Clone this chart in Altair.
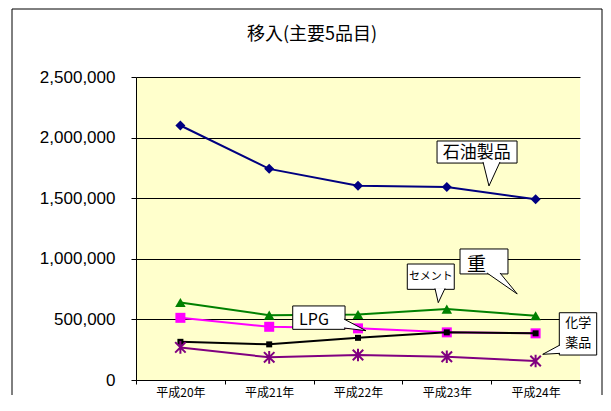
import json
import altair as alt
import pandas as pd

# ---------------- data ----------------
years = ["平成20年", "平成21年", "平成22年", "平成23年", "平成24年"]
series_names = ["石油製品", "セメント", "LPG", "重油", "化学薬品"]
petroleum = [2100000, 1742000, 1602000, 1592000, 1492000]
cement = [640000, 535000, 541000, 585000, 530000]
lpg = [513000, 439000, 426000, 393000, 385000]
heavy_oil = [315000, 294000, 348000, 393000, 385000]
chemicals = [269000, 187000, 206000, 192000, 157000]
y_ticks = [0, 500000, 1000000, 1500000, 2000000, 2500000]
title_text = "移入(主要5品目)"

# callout boxes (data units)
box_names = ["石油製品", "重", "セメント", "LPG", "化学薬品"]
box_x1 = [2.890, 3.149, 2.555, 1.265, 4.267]
box_x2 = [3.791, 3.689, 3.084, 1.854, 4.688]
box_y1 = [1972000, 1081000, 957000, 611000, 555000]
box_y2 = [1790000, 875000, 748000, 418000, 206000]

# callout texts
txt_label = ["石油製品", "重", "セメント", "LPG", "化学", "薬品"]
txt_x = [3.337, 3.335, 2.820, 1.505, 4.480, 4.480]
txt_y = [1873000, 949000, 846000, 499000, 468000, 308000]
txt_size = [17, 19, 11, 16, 13, 13]

# callout pointers (base, tip, base)
ptr_id = [1, 1, 1, 2, 2, 2, 3, 3, 3, 4, 4, 4, 5, 5, 5]
ptr_ord = [0, 1, 2] * 5
ptr_x = [3.408, 3.475, 3.599, 3.453, 3.793, 3.599, 2.867, 2.904, 2.980,
         1.842, 2.090, 1.842, 4.275, 4.080, 4.275]
ptr_y = [1799000, 1601000, 1799000, 883000, 710000, 883000, 756000, 638000, 756000,
         503000, 407000, 429000, 289000, 212000, 220000]

# ---------------- tables ----------------
values = [petroleum, cement, lpg, heavy_oil, chemicals]
rows = []
for name, vals in zip(series_names, values):
    for i, v in enumerate(vals):
        rows.append({"series": name, "idx": i, "value": v})
df = pd.DataFrame(rows)
box_df = pd.DataFrame({"name": box_names, "x1": box_x1, "x2": box_x2, "y1": box_y1, "y2": box_y2})
txt_df = pd.DataFrame({"label": txt_label, "x": txt_x, "y": txt_y, "fs": txt_size})
ptr_df = pd.DataFrame({"id": ptr_id, "ord": ptr_ord, "x": ptr_x, "y": ptr_y})
one = pd.DataFrame({"a": [0]})

W, H = 444, 303
xscale = alt.Scale(domain=[-0.5, len(years) - 0.5], nice=False, zero=False)
yscale = alt.Scale(domain=[0, 2500000], nice=False)

# band boundaries: labelled ticks on the left edge of each band, plus the closing tick
left_edges = [i - 0.5 for i in range(len(years))]
end_df = pd.DataFrame({"b": [len(years) - 0.5]})
years_js = json.dumps(years, ensure_ascii=False)
x_axis = alt.Axis(values=left_edges, title=None,
                  labelExpr=f"{years_js}[round(datum.value + 0.5)]")
y_axis = alt.Axis(values=y_ticks, title=None, labelExpr="format(datum.value, ',')")

colors = ["#000080", "#008000", "#FF00FF", "#000000", "#800080"]
shapes = ["diamond", "triangle-up", "square", "square",
          "M-1,-1L1,1M1,-1L-1,1M0,-1.2L0,1.2"]
sizes = [100, 110, 100, 36, 110]
filled = [True, True, True, True, False]


def X(field):
    return alt.X(field, scale=xscale, axis=x_axis)


def Y(field):
    return alt.Y(field, scale=yscale, axis=y_axis)


layers = []
for name, c, s, sz, f in zip(series_names, colors, shapes, sizes, filled):
    base = alt.Chart(df).transform_filter(alt.datum.series == name)
    layers.append(base.mark_line(color=c, strokeWidth=2).encode(x=X("idx:Q"), y=Y("value:Q")))
    if f:
        pt = base.mark_point(shape=s, size=sz, filled=True, color=c, opacity=1)
    else:
        pt = base.mark_point(shape=s, size=sz, filled=False, color=c, strokeWidth=2, opacity=1)
    layers.append(pt.encode(x=X("idx:Q"), y=Y("value:Q")))

# closing tick at the right end of the x axis
layers.append(alt.Chart(end_df).mark_rule(color="black", strokeWidth=1).encode(
    x=X("b:Q"), y=alt.value(H), y2=alt.value(H + 4)))

# callouts
layers.append(alt.Chart(box_df).mark_rect(fill="white", stroke="black", strokeWidth=1).encode(
    x=X("x1:Q"), x2="x2:Q", y=Y("y1:Q"), y2="y2:Q"))
layers.append(alt.Chart(ptr_df).mark_line(fill="white", stroke="black", strokeWidth=1).encode(
    x=X("x:Q"), y=Y("y:Q"), detail="id:N", order="ord:Q"))
layers.append(alt.Chart(txt_df).mark_text(font="Noto Sans CJK JP", color="black",
                                          align="center", baseline="middle").encode(
    x=X("x:Q"), y=Y("y:Q"), text="label:N", size=alt.Size("fs:Q", scale=None)))

# title
layers.append(alt.Chart(one).mark_text(text=title_text, font="Noto Sans CJK JP", fontSize=18,
                                       color="black", align="center", baseline="middle").encode(
    x=alt.value(176), y=alt.value(-42)))

# frame (left, top, right)
layers.append(alt.Chart(one).mark_rule(color="black", strokeWidth=1).encode(
    x=alt.value(-124), y=alt.value(-68), y2=alt.value(318)))
layers.append(alt.Chart(one).mark_rule(color="black", strokeWidth=1).encode(
    x=alt.value(-124), x2=alt.value(466), y=alt.value(-68)))
layers.append(alt.Chart(one).mark_rule(color="black", strokeWidth=1).encode(
    x=alt.value(466), y=alt.value(-68), y2=alt.value(318)))

chart = alt.layer(*layers).properties(
    width=W, height=H, background="white",
    padding={"left": 3, "top": 0, "right": 0, "bottom": 0}
).configure_view(
    fill="#FFFFCC", strokeWidth=0
).configure_axisY(
    labelFontSize=17, labelFont="Liberation Sans", labelColor="black",
    tickSize=5, tickColor="black", domainColor="black", labelPadding=16,
    grid=True, gridColor="black", gridWidth=1, gridOpacity=1
).configure_axisX(
    labelOffset=W / len(years) / 2, labelFlush=False, labelOverlap=False,
    tickSize=4, labelFontSize=12, labelFont="Noto Sans CJK JP", labelColor="black",
    labelPadding=3, grid=False, domainColor="black", tickColor="black"
)

chart.save("out.html", embed_options={"renderer": "svg", "actions": False})
